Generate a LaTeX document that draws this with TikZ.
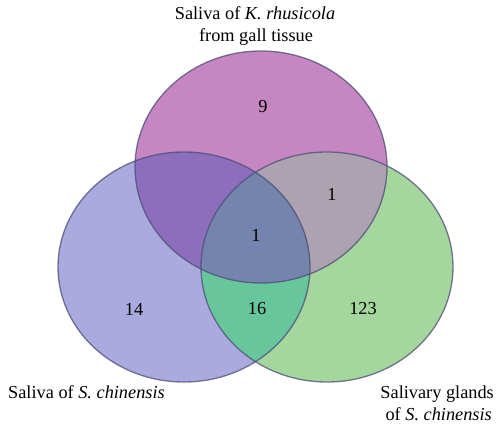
\documentclass[tikz,border=0pt]{standalone}
\usepackage{fontspec}
\setmainfont{Liberation Serif}
\begin{document}
\begin{tikzpicture}[x=1pt,y=-1pt,
  lbl/.style={font=\fontsize{18.3}{22}\selectfont, inner sep=0pt},
  num/.style={font=\fontsize{18.3}{22}\selectfont, inner sep=0pt},
  rim/.style={draw=black!60!blue!40!gray, line width=1.3pt, draw opacity=0.75}]
\definecolor{cT}{RGB}{198,134,194}
\definecolor{cL}{RGB}{170,170,222}
\definecolor{cR}{RGB}{164,214,158}
\definecolor{cTL}{RGB}{140,110,188}
\definecolor{cTR}{RGB}{172,162,176}
\definecolor{cLR}{RGB}{104,198,156}
\definecolor{cC}{RGB}{116,132,172}
\useasboundingbox (0,0) rectangle (496,428);
\def\topE{(261,167) ellipse [x radius=126, y radius=116]}
\def\leftE{(184,267) ellipse [x radius=126, y radius=115]}
\def\rightE{(327,267) ellipse [x radius=126, y radius=115]}
% single regions
\fill[cT] \topE;
\fill[cL] \leftE;
\fill[cR] \rightE;
% pairwise
\begin{scope}
  \clip \topE;
  \fill[cTL] \leftE;
  \fill[cTR] \rightE;
\end{scope}
\begin{scope}
  \clip \leftE;
  \fill[cLR] \rightE;
\end{scope}
\begin{scope}
  \clip \topE;
  \clip \leftE;
  \fill[cC] \rightE;
\end{scope}
% outlines
\draw[rim] \topE;
\draw[rim] \leftE;
\draw[rim] \rightE;
% labels
\node[lbl, anchor=base] (t1) at (255,20) {Saliva of \textit{K. rhusicola}};
\node[lbl, anchor=base] (t2) at (256,42) {from gall tissue};
\node[lbl, anchor=base west] (l1) at (8,398) {Saliva of \textit{S. chinensis}};
\node[lbl, anchor=base east] (r1) at (494,398) {Salivary glands};
\node[lbl, anchor=base east] (r2) at (492,420) {of \textit{S. chinensis}};
% numbers
\node[num] (n9) at (263,107) {9};
\node[num] (nTR) at (332,194) {1};
\node[num] (nC) at (256,235) {1};
\node[num] (n14) at (134,309) {14};
\node[num] (n16) at (257,309) {16};
\node[num] (n123) at (363,309) {123};
\end{tikzpicture}
\end{document}
